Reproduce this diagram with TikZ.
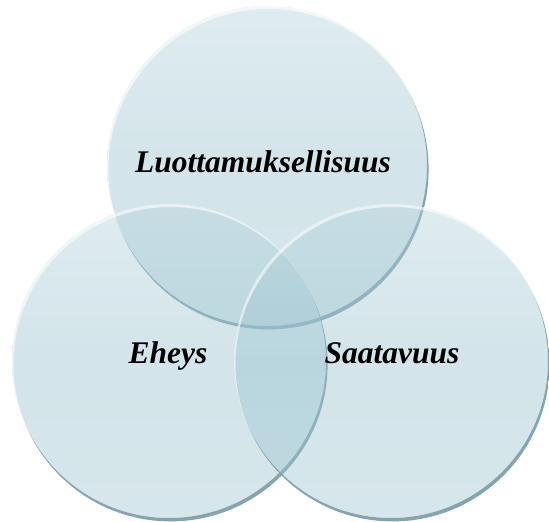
\documentclass[tikz,border=0pt]{standalone}
\usepackage{fontspec}
\setmainfont{Liberation Serif}
\tikzset{
  x=1pt, y=-1pt,
  circfill/.style={top color=circcol!72, bottom color=circcol!92, middle color=circcol, fill opacity=0.42},
  rimdark/.style={fill=rimcol, fill opacity=0.95},
  rimlight/.style={fill=white, fill opacity=0.6},
  lbl/.style={anchor=base, font=\fontsize{31.5}{34}\selectfont\bfseries\itshape, text=black, inner sep=0pt}
}
\definecolor{circcol}{RGB}{150,192,205}
\definecolor{rimcol}{RGB}{128,158,172}
\newcommand{\glasscircle}[3]{%
  % #1 = x, #2 = y, #3 = radius
  \shade[circfill] (#1,#2) circle (#3);
  \begin{scope}
    \clip (#1+1.6,#2+3.4) circle (#3);
    \fill[rimdark, even odd rule] (#1-#3-10,#2-#3-10) rectangle (#1+#3+10,#2+#3+10) (#1,#2) circle (#3);
  \end{scope}
  \begin{scope}
    \clip (#1,#2) circle (#3);
    \fill[rimlight, even odd rule] (#1-#3-10,#2-#3-10) rectangle (#1+#3+10,#2+#3+10) (#1+1.5,#2+3) circle (#3);
  \end{scope}
}
\begin{document}
\begin{tikzpicture}
  \useasboundingbox (0,0) rectangle (549,522);
  \glasscircle{267}{166}{160}
  \glasscircle{169}{361}{157}
  \glasscircle{391}{361}{157}
  \node[lbl] (conf) at (263,172) {Luottamuksellisuus};
  \node[lbl] (integ) at (168,363) {Eheys};
  \node[lbl] (avail) at (392,363) {Saatavuus};
\end{tikzpicture}
\end{document}
